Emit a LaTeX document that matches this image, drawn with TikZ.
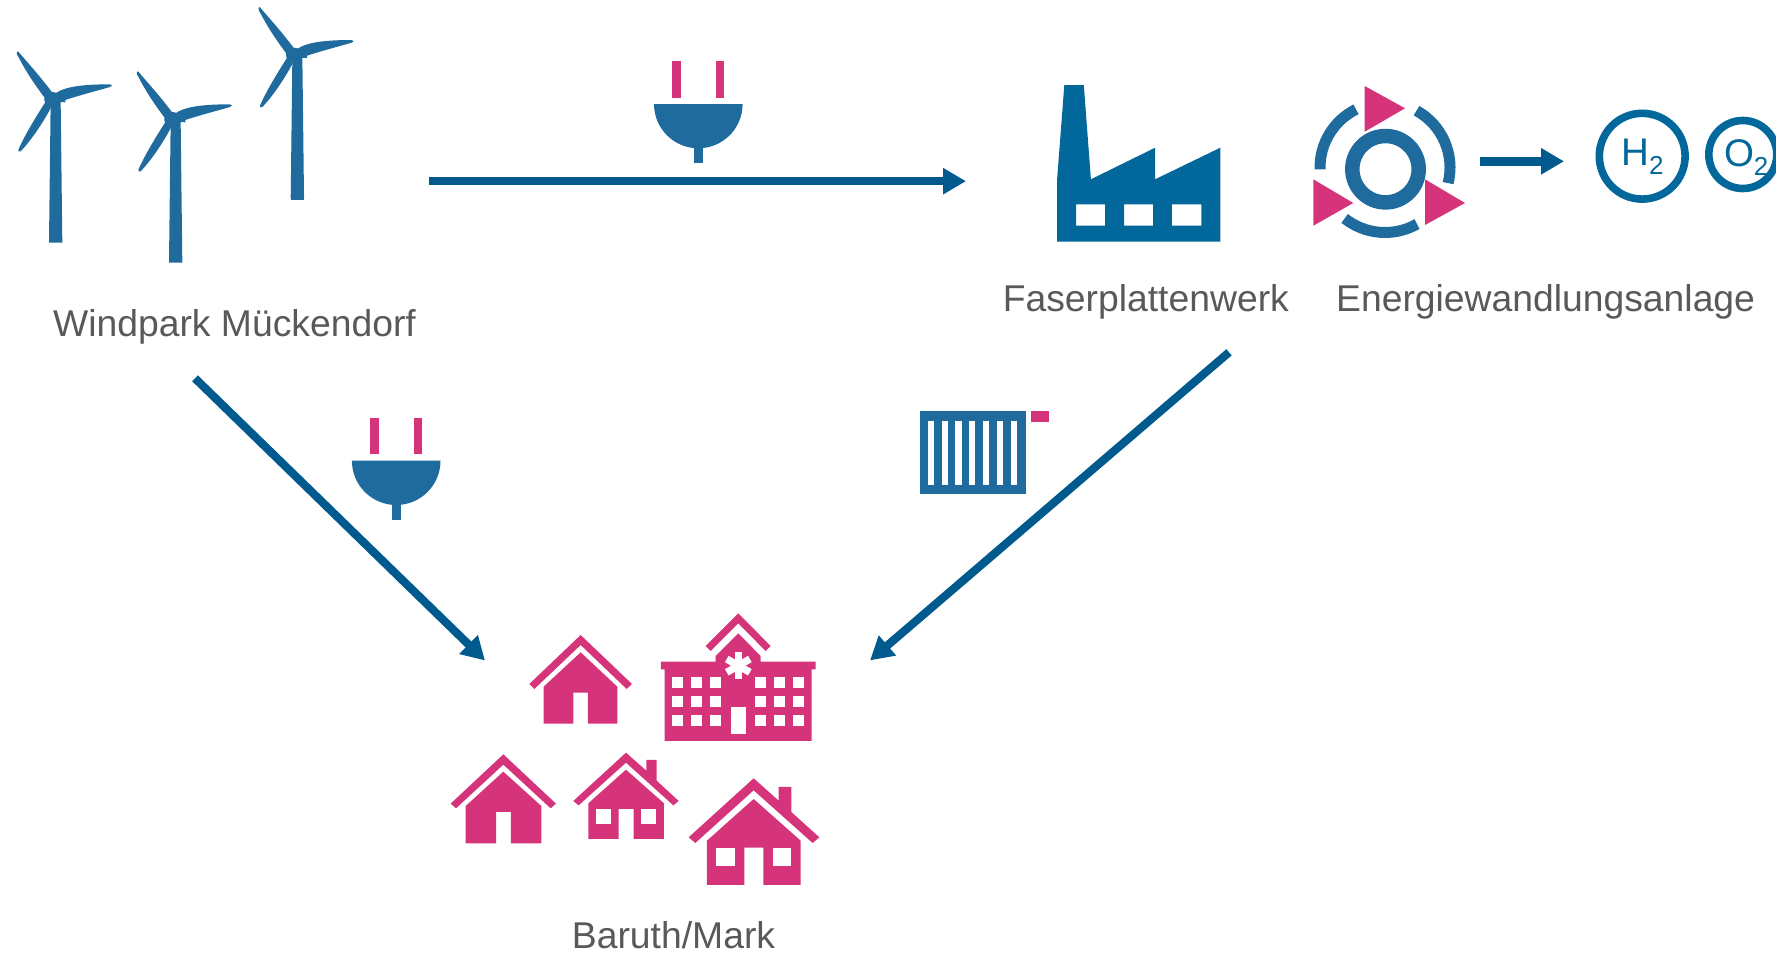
\documentclass[tikz,border=0pt]{standalone}
\usepackage{fontspec}
\setmainfont{Liberation Sans}
\usetikzlibrary{arrows.meta}
\definecolor{tblue}{HTML}{1F6B9E}
\definecolor{fblue}{HTML}{02689C}
\definecolor{ablue}{HTML}{005A8E}
\definecolor{rpink}{HTML}{D6347A}
\definecolor{gtext}{HTML}{595959}
\tikzset{
  lab/.style={anchor=base,inner sep=0pt,text=gtext,font=\fontsize{37.3}{40}\selectfont},
  flow/.style={draw=ablue,line width=8.2pt,-{Triangle[length=23pt,width=25pt]}},
  molec/.style={draw=fblue,line width=7.6pt,fill=none},
  moltxt/.style={anchor=base west,inner sep=0pt,text=fblue,font=\fontsize{38.5}{38.5}\selectfont},
  ringarc/.style={tblue,line width=11pt},
  turbine/.pic={
    \fill[tblue] (147,728) -- (152,305) -- (182,305) -- (187,728) -- cycle;
    \fill[tblue] (133,291) -- (196,291) -- (196,307) -- (133,303) -- cycle;
    \fill[tblue] (158,300) circle[radius=24];
    \fill[tblue] (162,285) .. controls (130,240) and (85,190) .. (54,154) .. controls (48,155) and (50,165) .. (56,172) .. controls (78,215) and (105,255) .. (133,292) -- cycle;
    \fill[tblue] (165,281) .. controls (195,258) and (260,253) .. (330,253) .. controls (338,254) and (337,259) .. (330,261) .. controls (285,274) and (230,288) .. (175,307) -- cycle;
    \fill[tblue] (152,325) .. controls (125,375) and (90,425) .. (62,454) .. controls (56,458) and (53,453) .. (57,445) .. controls (75,405) and (105,355) .. (138,303) -- cycle;
  },
  plugicon/.pic={
    \fill[rpink] (-26,0) rectangle (-17.3,36.5);
    \fill[rpink] (17.4,0) rectangle (25.9,36.5);
    \fill[tblue] (-44.3,43) -- (44.3,43) arc[start angle=0,end angle=-180,x radius=44.3,y radius=-44.3] -- cycle;
    \fill[tblue] (-4.2,80) rectangle (4.4,102.3);
  }
}
\begin{document}
\begin{tikzpicture}[x=1pt,y=-1pt]
\useasboundingbox (0,0) rectangle (1776,953);
\clip (0,0) rectangle (1776,953);

% wind turbines
\begin{scope}[x=.3333pt,y=-.3333pt]
\pic at (0,0) {turbine};
\end{scope}
\begin{scope}[shift={(120,20)},x=.3333pt,y=-.3333pt]
\pic at (0,0) {turbine};
\end{scope}
\begin{scope}[shift={(241.7,-44.3)},x=.3333pt,y=-.3333pt]
\pic at (0,0) {turbine};
\end{scope}
\fill[tblue] (290.7,195) rectangle (304,200);

% plugs
\pic[x=1pt,y=-1pt] at (698.3,61) {plugicon};
\pic[x=1pt,y=-1pt] at (396.2,417.7) {plugicon};

% factory
\fill[fblue,even odd rule]
  (1057.1,241.7) -- (1057.1,179.3) -- (1064.3,85) -- (1083.8,85) -- (1090.9,179.3)
  -- (1155.1,147.7) -- (1155.1,179.3) -- (1220.3,147.7) -- (1220.3,241.7) -- cycle
  (1076.1,204.3) rectangle (1105.2,225.7)
  (1124.2,204.3) rectangle (1153.2,225.7)
  (1171.8,204.3) rectangle (1201.3,225.7);

% energy conversion icon
\draw[tblue,line width=14.5pt] (1385.5,169.2) circle[radius=33.2];
\begin{scope}[shift={(1385,167.5)},x=1pt,y=1pt]
  \draw[ringarc] (116.5:65) arc[start angle=116.5,end angle=181.6,radius=65];
  \draw[ringarc] (61:65) arc[start angle=61,end angle=-13.9,radius=65];
  \draw[ringarc] (231.6:65) arc[start angle=231.6,end angle=299.5,radius=65];
\end{scope}
\fill[rpink] (1364.7,86) -- (1405,108.3) -- (1364.7,131.7) -- cycle;
\fill[rpink] (1313.3,179.3) -- (1353.3,203) -- (1313.3,225.7) -- cycle;
\fill[rpink] (1425,179.3) -- (1465,203) -- (1425,225) -- cycle;

% molecules
\node[circle,molec,minimum size=85.8pt,inner sep=0pt] (h2) at (1642.2,156.2) {};
\node[circle,molec,minimum size=68pt,inner sep=0pt] (o2) at (1742.8,154.5) {};
\node[moltxt] (h2t) at (1621,165) {H\raisebox{-9pt}{\fontsize{26}{26}\selectfont 2}};
\node[moltxt] (o2t) at (1723.8,166) {O\raisebox{-9pt}{\fontsize{26}{26}\selectfont 2}};

% radiator
\fill[tblue] (920,411) rectangle (1025.6,494);
\foreach \i in {0,...,6}
  \fill[white] ({927.7+13.8*\i},421.3) rectangle ({934+13.8*\i},485);
\fill[rpink] (1031.4,411) rectangle (1048.9,421.7);

% houses and hospital
\begin{scope}[shift={(430,600)},x=.3333pt,y=-.3333pt]
  \fill[rpink] (452,105) -- (606,252) -- (590,267) -- (452,135) -- (313,267) -- (298,252) -- cycle;
  \fill[rpink] (452,157) -- (562,260) -- (562,371) -- (474,371) -- (474,278) -- (430,278) -- (430,371) -- (341,371) -- (341,260) -- cycle;

  \fill[rpink] (925,40) -- (1022,138) -- (1007,153) -- (925,70) -- (842,153) -- (827,138) -- cycle;
  \fill[rpink] (857,185) -- (857,168) -- (925,100) -- (992,168) -- (992,185) -- (1157,185) -- (1157,208) -- (1145,208) -- (1145,423) -- (704,423) -- (704,208) -- (693,208) -- (693,185) -- cycle;
  \foreach \wx in {726,783,839,975,1032,1088}
    \foreach \wy in {231,288,344}
      \fill[white] (\wx,\wy) rectangle ({\wx+34},{\wy+34});
  \fill[white] (902,321) rectangle (947,401);
  \foreach \ang in {90,30,150}
    \draw[white,line width=7.3pt] ({925+40*cos(\ang)},{197+40*sin(\ang)}) -- ({925-40*cos(\ang)},{197-40*sin(\ang)});

  \fill[rpink] (220,463) -- (378,611) -- (362,625) -- (220,494) -- (78,625) -- (62,611) -- cycle;
  \fill[rpink] (220,515) -- (334,618) -- (334,730) -- (243,730) -- (243,636) -- (198,636) -- (198,730) -- (107,730) -- (107,618) -- cycle;

  \fill[rpink] (588,458) -- (649,512) -- (649,480) -- (680,480) -- (680,542) -- (746,603) -- (730,616) -- (588,488) -- (446,616) -- (430,603) -- cycle;
  \fill[rpink] (588,509) -- (702,610) -- (702,717) -- (611,717) -- (611,627) -- (566,627) -- (566,717) -- (475,717) -- (475,610) -- cycle;
  \fill[white] (497,627) rectangle (543,671);
  \fill[white] (633,627) rectangle (679,671);

  \fill[rpink] (971,535) -- (1046,602) -- (1046,561) -- (1084,561) -- (1084,636) -- (1168,712) -- (1148,729) -- (971,571) -- (796,729) -- (776,712) -- cycle;
  \fill[rpink] (971,597) -- (1112,722) -- (1112,855) -- (1000,855) -- (1000,743) -- (943,743) -- (943,855) -- (831,855) -- (831,722) -- cycle;
  \fill[white] (859,743) rectangle (915,797);
  \fill[white] (1028,743) rectangle (1084,797);
\end{scope}

% labels
\node[lab] (wind) at (234.5,336.4) {Windpark Mückendorf};
\node[lab] (fabrik) at (1145.8,311) {Faserplattenwerk};
\node[lab] (energie) at (1545.6,311) {Energiewandlungsanlage};
\node[lab] (baruth) at (673.5,948.5) {Baruth/Mark};

% connector ends
\coordinate (c1a) at (429,181.2);
\coordinate (c1b) at (966,181.2);
\coordinate (c2a) at (195,378.3);
\coordinate (c2b) at (485,660.5);
\coordinate (c3a) at (1229,352.3);
\coordinate (c3b) at (870,660.4);
\coordinate (c4a) at (1479.7,161.3);
\coordinate (c4b) at (1564,161.3);

\draw[flow] (c1a) -- (c1b);
\draw[flow] (c2a) -- (c2b);
\draw[flow] (c3a) -- (c3b);
\draw[flow,line width=8.7pt] (c4a) -- (c4b);
\end{tikzpicture}
\end{document}
